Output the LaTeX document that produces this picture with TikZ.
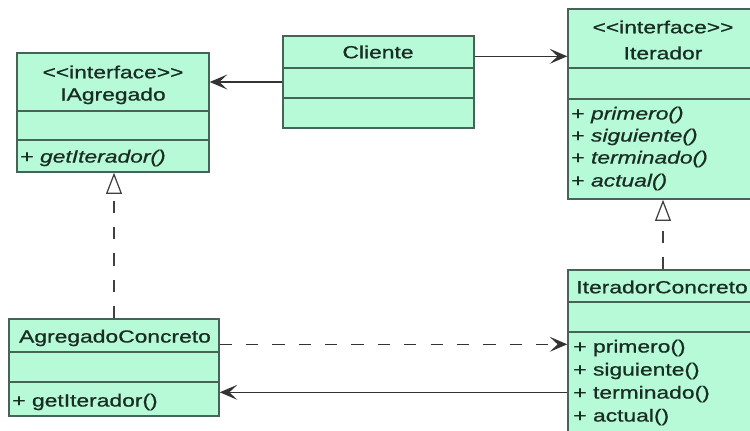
\documentclass[tikz,border=0pt]{standalone}
\usepackage{fontspec}
\setmainfont{Liberation Sans}[FakeStretch=1.3,FakeBold=0.8]
\usetikzlibrary{arrows.meta,fit,calc}
\definecolor{classfill}{RGB}{182,250,216}
\definecolor{classedge}{RGB}{70,100,85}
\definecolor{classtext}{RGB}{25,45,35}
\newcommand{\umlstereo}[1]{<\kern0pt<#1>\kern0pt>}
\tikzset{
  classbox/.style={draw=classedge, fill=classfill, line width=0.8pt, inner sep=0pt},
  sepline/.style={draw=classedge, line width=0.8pt},
  classname/.style={text=classtext, font=\fontsize{10}{12}\selectfont, inner sep=0pt},
  oplabel/.style={classname, anchor=west},
  assoc/.style={draw=black!80, line width=0.8pt, -{Stealth[length=10pt,width=8.5pt,inset=4.5pt]}},
  depend/.style={assoc, dash pattern=on 7pt off 8pt},
  realize/.style={draw=black!75, line width=0.7pt, dash pattern=on 7pt off 8pt,
    -{Triangle[open,length=12pt,width=9pt,fill=white]}},
}
\begin{document}
\begin{tikzpicture}[x=0.02cm, y=-0.02cm]
    \useasboundingbox (0,0) rectangle (750,430);
    \clip (0,0) rectangle (750,430);
    % IAgregado
    \node[classbox, fit={(17,53) (209,172)}] (iagregado) {};
    \draw[sepline] (17,111) -- (209,111);
    \draw[sepline] (17,140) -- (209,140);
    \node[classname] (iagregadoStereo) at (113,72) {\umlstereo{interface}};
    \node[classname] (iagregadoName) at (113,96) {IAgregado};
    \node[oplabel] (iagregadoOp) at (20,158) {+ \textit{getIterador()}};
    % Cliente
    \node[classbox, fit={(283,36) (474,128)}] (cliente) {};
    \draw[sepline] (283,68) -- (474,68);
    \draw[sepline] (283,98) -- (474,98);
    \node[classname] (clienteName) at (378,52) {Cliente};
    % Iterador
    \node[classbox, fit={(568,9) (758,199)}] (iterador) {};
    \draw[sepline] (568,68) -- (758,68);
    \draw[sepline] (568,99) -- (758,99);
    \node[classname] (iteradorStereo) at (663,27) {\umlstereo{interface}};
    \node[classname] (iteradorName) at (663,53) {Iterador};
    \node[oplabel] (iteradorOpA) at (571,115) {+ \textit{primero()}};
    \node[oplabel] (iteradorOpB) at (571,137) {+ \textit{siguiente()}};
    \node[oplabel] (iteradorOpC) at (571,159) {+ \textit{terminado()}};
    \node[oplabel] (iteradorOpD) at (571,182) {+ \textit{actual()}};
    % IteradorConcreto
    \node[classbox, fit={(568,270) (758,445)}] (itConcreto) {};
    \draw[sepline] (568,302) -- (758,302);
    \draw[sepline] (568,332) -- (758,332);
    \node[oplabel] (itConcretoName) at (576,287) {IteradorConcreto};
    \node[oplabel] (itConcretoOpA) at (573,348) {+ primero()};
    \node[oplabel] (itConcretoOpB) at (573,371) {+ siguiente()};
    \node[oplabel] (itConcretoOpC) at (573,394) {+ terminado()};
    \node[oplabel] (itConcretoOpD) at (573,417) {+ actual()};
    % AgregadoConcreto
    \node[classbox, fit={(9,319) (219,416)}] (agConcreto) {};
    \draw[sepline] (9,352) -- (219,352);
    \draw[sepline] (9,382) -- (219,382);
    \node[classname] (agConcretoName) at (115,338) {AgregadoConcreto};
    \node[oplabel] (agConcretoOp) at (12,402) {+ getIterador()};
    % relations
    \draw[assoc] (cliente.west) -- (cliente.west -| iagregado.east);
    \draw[assoc] ($(cliente.north east)+(0,21)$) -- ($(iterador.north west)+(0,48)$);
    \draw[depend] ($(agConcreto.north east)+(0,26)$) -- ($(itConcreto.north west)+(0,75)$);
    \draw[assoc] ($(itConcreto.north west)+(0,123)$) -- ($(agConcreto.north east)+(0,74)$);
    \draw[realize] (agConcreto.north) -- (agConcreto.north |- iagregado.south);
    \draw[realize] (itConcreto.north) -- (itConcreto.north |- iterador.south);
\end{tikzpicture}
\end{document}
